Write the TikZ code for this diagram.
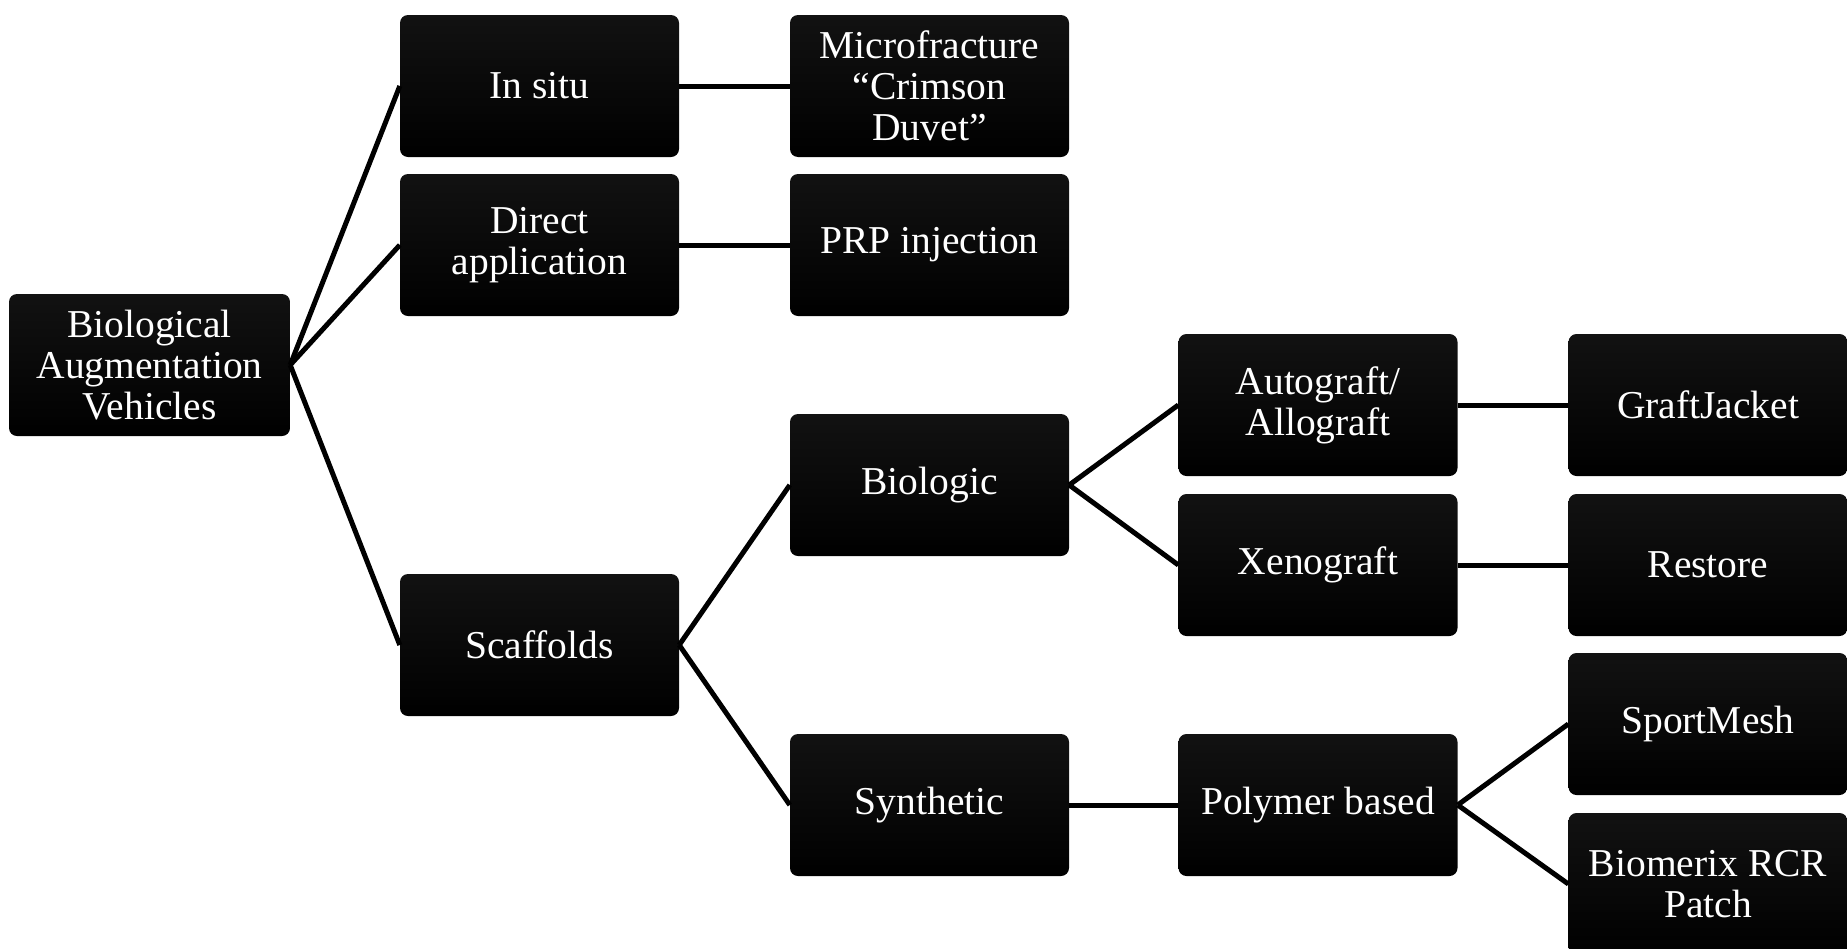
\documentclass[tikz,border=0pt]{standalone}
\usepackage{fontspec}
\setmainfont{Liberation Serif}
\begin{document}
\begin{tikzpicture}[x=1pt,y=-1pt,
  box/.style={draw=none,rounded corners=8pt,minimum width=279pt,minimum height=142pt,
    top color=black!93!white,middle color=black,bottom color=black,
    inner sep=0pt,text=white,align=center,font=\fontsize{39.5}{41}\selectfont},
  link/.style={line width=5pt,black}]
\useasboundingbox (0,0) rectangle (1847,948);
\node[box,minimum width=281pt] (root) at (149.5,365) {Biological\\Augmentation\\Vehicles};
\node[box] (insitu) at (539.5,86) {In situ};
\node[box] (direct) at (539.5,245) {Direct\\application};
\node[box] (scaff) at (539.5,645) {Scaffolds};
\node[box] (micro) at (929.5,86) {Microfracture\\“Crimson\\Duvet”};
\node[box] (prp) at (929.5,245) {PRP injection};
\node[box] (bio) at (929.5,485) {Biologic};
\node[box] (synth) at (929.5,805) {Synthetic};
\node[box] (auto) at (1318,405) {Autograft/\\Allograft};
\node[box] (xeno) at (1318,565) {Xenograft};
\node[box] (poly) at (1318,805) {Polymer based};
\node[box] (graft) at (1708,405) {GraftJacket};
\node[box] (restore) at (1708,565) {Restore};
\node[box] (sport) at (1708,724) {SportMesh};
\node[box] (biomerix) at (1708,884) {Biomerix RCR\\Patch};
\draw[link] (root.east) -- (insitu.west);
\draw[link] (root.east) -- (direct.west);
\draw[link] (root.east) -- (scaff.west);
\draw[link] (insitu) -- (micro);
\draw[link] (direct) -- (prp);
\draw[link] (scaff.east) -- (bio.west);
\draw[link] (scaff.east) -- (synth.west);
\draw[link] (bio.east) -- (auto.west);
\draw[link] (bio.east) -- (xeno.west);
\draw[link] (auto) -- (graft);
\draw[link] (xeno) -- (restore);
\draw[link] (synth) -- (poly);
\draw[link] (poly.east) -- (sport.west);
\draw[link] (poly.east) -- (biomerix.west);
\end{tikzpicture}
\end{document}
